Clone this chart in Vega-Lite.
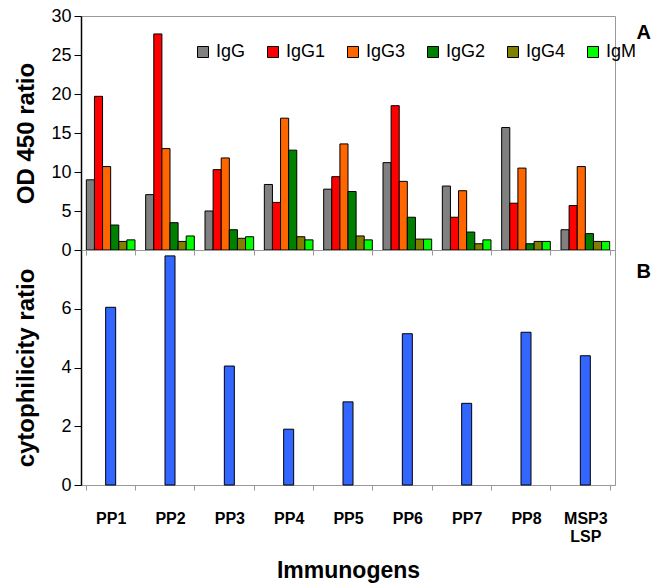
{
  "$schema": "https://vega.github.io/schema/vega-lite/v6.json",
  "padding": {"left": 14, "top": 6, "right": 5, "bottom": 0},
  "bounds": "flush",
  "spacing": 0,
  "config": {
    "font": "Liberation Sans",
    "view": {"stroke": "#999999", "strokeWidth": 1},
    "axis": {"grid": false},
    "axisY": {"domainColor": "#000000", "tickColor": "#000000", "tickSize": 7, "labelFontSize": 18, "labelColor": "#000000", "labelPadding": 3, "titleFontSize": 24, "titleFontWeight": "bold", "titleColor": "#000000", "domainWidth": 1.5},
    "axisX": {"domainColor": "#999999", "tickColor": "#999999", "tickSize": 5, "tickBand": "extent"}
  },
  "datasets": {
    "ig": [
      {"imm": "PP1", "iso": "IgG", "v": 9.0}, {"imm": "PP1", "iso": "IgG1", "v": 19.7}, {"imm": "PP1", "iso": "IgG3", "v": 10.7}, {"imm": "PP1", "iso": "IgG2", "v": 3.2}, {"imm": "PP1", "iso": "IgG4", "v": 1.1}, {"imm": "PP1", "iso": "IgM", "v": 1.3},
      {"imm": "PP2", "iso": "IgG", "v": 7.1}, {"imm": "PP2", "iso": "IgG1", "v": 27.7}, {"imm": "PP2", "iso": "IgG3", "v": 13.0}, {"imm": "PP2", "iso": "IgG2", "v": 3.5}, {"imm": "PP2", "iso": "IgG4", "v": 1.1}, {"imm": "PP2", "iso": "IgM", "v": 1.8},
      {"imm": "PP3", "iso": "IgG", "v": 5.0}, {"imm": "PP3", "iso": "IgG1", "v": 10.3}, {"imm": "PP3", "iso": "IgG3", "v": 11.8}, {"imm": "PP3", "iso": "IgG2", "v": 2.6}, {"imm": "PP3", "iso": "IgG4", "v": 1.5}, {"imm": "PP3", "iso": "IgM", "v": 1.7},
      {"imm": "PP4", "iso": "IgG", "v": 8.4}, {"imm": "PP4", "iso": "IgG1", "v": 6.1}, {"imm": "PP4", "iso": "IgG3", "v": 16.9}, {"imm": "PP4", "iso": "IgG2", "v": 12.8}, {"imm": "PP4", "iso": "IgG4", "v": 1.7}, {"imm": "PP4", "iso": "IgM", "v": 1.3},
      {"imm": "PP5", "iso": "IgG", "v": 7.8}, {"imm": "PP5", "iso": "IgG1", "v": 9.4}, {"imm": "PP5", "iso": "IgG3", "v": 13.6}, {"imm": "PP5", "iso": "IgG2", "v": 7.5}, {"imm": "PP5", "iso": "IgG4", "v": 1.8}, {"imm": "PP5", "iso": "IgM", "v": 1.3},
      {"imm": "PP6", "iso": "IgG", "v": 11.2}, {"imm": "PP6", "iso": "IgG1", "v": 18.5}, {"imm": "PP6", "iso": "IgG3", "v": 8.8}, {"imm": "PP6", "iso": "IgG2", "v": 4.2}, {"imm": "PP6", "iso": "IgG4", "v": 1.4}, {"imm": "PP6", "iso": "IgM", "v": 1.4},
      {"imm": "PP7", "iso": "IgG", "v": 8.2}, {"imm": "PP7", "iso": "IgG1", "v": 4.2}, {"imm": "PP7", "iso": "IgG3", "v": 7.6}, {"imm": "PP7", "iso": "IgG2", "v": 2.3}, {"imm": "PP7", "iso": "IgG4", "v": 0.8}, {"imm": "PP7", "iso": "IgM", "v": 1.3},
      {"imm": "PP8", "iso": "IgG", "v": 15.7}, {"imm": "PP8", "iso": "IgG1", "v": 6.0}, {"imm": "PP8", "iso": "IgG3", "v": 10.5}, {"imm": "PP8", "iso": "IgG2", "v": 0.8}, {"imm": "PP8", "iso": "IgG4", "v": 1.1}, {"imm": "PP8", "iso": "IgM", "v": 1.1},
      {"imm": "MSP3 LSP", "iso": "IgG", "v": 2.6}, {"imm": "MSP3 LSP", "iso": "IgG1", "v": 5.7}, {"imm": "MSP3 LSP", "iso": "IgG3", "v": 10.7}, {"imm": "MSP3 LSP", "iso": "IgG2", "v": 2.1}, {"imm": "MSP3 LSP", "iso": "IgG4", "v": 1.1}, {"imm": "MSP3 LSP", "iso": "IgM", "v": 1.1}
    ],
    "cyto": [
      {"imm": "PP1", "c": 6.05}, {"imm": "PP2", "c": 7.8}, {"imm": "PP3", "c": 4.05}, {"imm": "PP4", "c": 1.9}, {"imm": "PP5", "c": 2.83},
      {"imm": "PP6", "c": 5.15}, {"imm": "PP7", "c": 2.78}, {"imm": "PP8", "c": 5.2}, {"imm": "MSP3 LSP", "c": 4.4}
    ]
  },
  "vconcat": [
    {
      "width": 534,
      "height": 234,
      "data": {"name": "ig"},
      "title": {"text": "A", "orient": "right", "anchor": "start", "angle": 0, "align": "left", "baseline": "top", "fontSize": 20, "fontWeight": "bold", "color": "#000000", "offset": 7, "dy": 16},
      "mark": {"type": "bar", "stroke": "#000000", "strokeWidth": 1},
      "encoding": {
        "x": {"field": "imm", "type": "nominal", "sort": ["PP1", "PP2", "PP3", "PP4", "PP5", "PP6", "PP7", "PP8", "MSP3 LSP"], "scale": {"paddingInner": 0.18, "paddingOuter": 0.09}, "axis": {"labels": false, "title": null}},
        "xOffset": {"field": "iso", "type": "nominal", "sort": ["IgG", "IgG1", "IgG3", "IgG2", "IgG4", "IgM"]},
        "y": {"field": "v", "type": "quantitative", "scale": {"domain": [0, 30]}, "axis": {"values": [0, 5, 10, 15, 20, 25, 30], "title": "OD 450 ratio", "titlePadding": 12}},
        "color": {
          "field": "iso", "type": "nominal",
          "scale": {"domain": ["IgG", "IgG1", "IgG3", "IgG2", "IgG4", "IgM"], "range": ["#808080", "#ff0000", "#ff6600", "#008000", "#808000", "#00ff00"]},
          "legend": {"title": null, "orient": "none", "direction": "horizontal", "legendX": 113, "legendY": 27, "symbolType": "square", "symbolSize": 121, "symbolStrokeColor": "#000000", "symbolStrokeWidth": 1, "symbolOpacity": 1, "labelFontSize": 18, "labelColor": "#000000", "labelOffset": 4, "columnPadding": 18, "padding": 0}
        }
      }
    },
    {
      "width": 534,
      "height": 235,
      "data": {"name": "cyto"},
      "title": {"text": "B", "orient": "right", "anchor": "start", "angle": 0, "align": "left", "baseline": "top", "fontSize": 20, "fontWeight": "bold", "color": "#000000", "offset": 7, "dy": 12},
      "mark": {"type": "bar", "width": 10, "color": "#3366ff", "stroke": "#000000", "strokeWidth": 1},
      "encoding": {
        "x": {"field": "imm", "type": "nominal", "sort": ["PP1", "PP2", "PP3", "PP4", "PP5", "PP6", "PP7", "PP8", "MSP3 LSP"], "scale": {"paddingInner": 0.18, "paddingOuter": 0.09}, "axis": {"title": "Immunogens", "labelAngle": 0, "labelFontSize": 16, "labelFontWeight": "bold", "labelColor": "#000000", "labelPadding": 20, "labelExpr": "split(datum.label, ' ')", "labelLineHeight": 18, "labelBaseline": "top", "titleFontSize": 23, "titleFontWeight": "bold", "titleColor": "#000000", "titlePadding": 15}},
        "y": {"field": "c", "type": "quantitative", "scale": {"domain": [0, 8]}, "axis": {"values": [0, 2, 4, 6], "title": "cytophilicity ratio", "titlePadding": 22}}
      }
    }
  ]
}
